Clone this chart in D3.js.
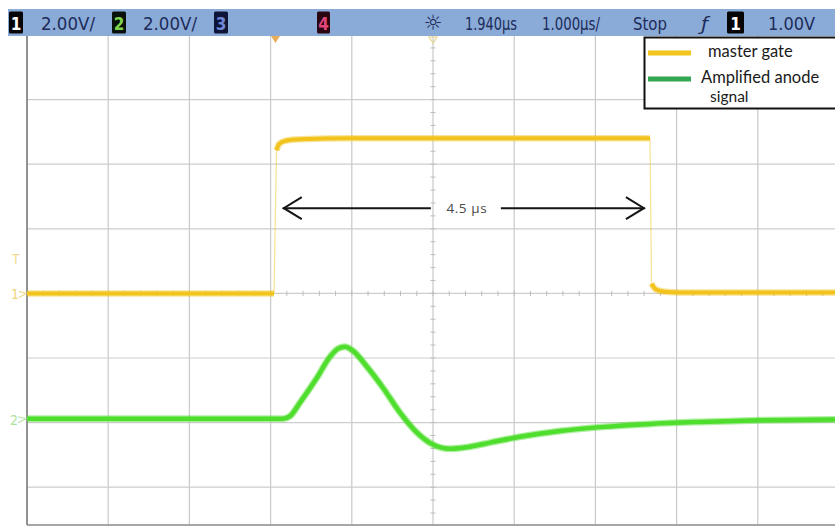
<!DOCTYPE html>
<html>
<head>
<meta charset="utf-8">
<script src="https://cdn.jsdelivr.net/npm/d3@7"></script>
<style>
  html, body { margin: 0; padding: 0; background: #ffffff; }
  svg { display: block; }
</style>
</head>
<body>
<svg id="chart" width="835" height="526"></svg>
<script>
// ---------------- DATA ----------------
// time in µs relative to the trigger point; voltages in V
const timePerDiv = 1.0;        // µs / div
const triggerDelay = 1.940;    // µs (screen centre relative to trigger)
const voltsPerDiv = [2.0, 2.0]; // ch1, ch2
const channelOffsetDiv = [0, -1.94];
const triggerLevel = 1.00;     // V on ch1

// master gate (ch1, yellow)
const gateTime  = [-3.06, -0.018, 0.013, 0.043, 0.117, 0.302, 0.918, 1.94, 3.381, 4.612, 4.631, 4.686, 4.797, 4.982, 6.94];
const gateVolts = [0.00, 0.00, 4.43, 4.62, 4.72, 4.77, 4.80, 4.80, 4.80, 4.80, 0.30, 0.12, 0.05, 0.03, 0.03];

// amplified anode signal (ch2, green)
const anodeTime  = [-3.06, 0.093, 0.179, 0.302, 0.511, 0.672, 0.770, 0.856, 0.955, 1.127, 1.324, 1.534, 1.743, 1.94, 2.149, 2.359, 2.642, 3.011, 3.504, 3.997, 4.612, 5.228, 5.967, 6.94];
const anodeVolts = [0.00, 0.00, 0.08, 0.50, 1.27, 1.92, 2.17, 2.23, 2.10, 1.61, 0.96, 0.19, -0.43, -0.80, -0.93, -0.88, -0.74, -0.56, -0.38, -0.26, -0.16, -0.10, -0.05, -0.02];

// annotation
const widthArrow = { start: 0.09, end: 4.55, levelDiv: 1.32, label: "4.5 µs" };

// status bar texts
const statusItems = [
  { type: "box", ch: "1", x: 9,   w: 14, fill: "#050505", color: "#ffffff" },
  { type: "text", text: "2.00V/", x: 41, w: 54 },
  { type: "box", ch: "2", x: 112, w: 14, fill: "#08120a", color: "#7fd44c" },
  { type: "text", text: "2.00V/", x: 143, w: 54 },
  { type: "box", ch: "3", x: 214, w: 14, fill: "#0e1338", color: "#7086d4" },
  { type: "box", ch: "4", x: 317, w: 13, fill: "#2a0612", color: "#e0457c" },
  { type: "text", text: "1.940µs", x: 465, w: 52 },
  { type: "text", text: "1.000µs/", x: 542, w: 58 },
  { type: "text", text: "Stop", x: 633, w: 34 },
  { type: "text", text: "ƒ", x: 701, w: 7 },
  { type: "box", ch: "1", x: 727, w: 17, fill: "#050505", color: "#ffffff" },
  { type: "text", text: "1.00V", x: 768, w: 47 }
];

const legendItems = [
  { label: ["master gate"], color: "#f1c51b" },
  { label: ["Amplified anode", "signal"], color: "#33a852" }
];

// ---------------- LAYOUT ----------------
const W = 835, H = 526;
const plotLeft = 27, divW = 81.2, plotTop = 35, divH = 64.6;
const nDivX = 10, nDivY = 8;
const visibleBottom = 525;

const svg = d3.select("#chart");

const x = d3.scaleLinear()
  .domain([triggerDelay - 5 * timePerDiv, triggerDelay + 5 * timePerDiv])
  .range([plotLeft, plotLeft + nDivX * divW]);
const y = d3.scaleLinear()
  .domain([-nDivY / 2, nDivY / 2])
  .range([plotTop + nDivY * divH, plotTop]);

const yCh = (ch, v) => y(channelOffsetDiv[ch] + v / voltsPerDiv[ch]);

svg.append("defs").append("clipPath").attr("id", "plotClip")
  .append("rect").attr("x", plotLeft).attr("y", plotTop + 1)
  .attr("width", W - plotLeft).attr("height", visibleBottom - plotTop - 1);

// ---------------- GRID ----------------
const grid = svg.append("g").attr("clip-path", "url(#plotClip)");
const xTicks = d3.range(0, nDivX + 1).map(k => x.domain()[0] + k * timePerDiv);
const yTicks = d3.range(-nDivY / 2, nDivY / 2 + 1);

grid.selectAll("line.vx").data(xTicks).join("line")
  .attr("x1", d => x(d)).attr("x2", d => x(d))
  .attr("y1", plotTop).attr("y2", visibleBottom)
  .attr("stroke", "#c9c9c9").attr("stroke-width", 1.2);
grid.selectAll("line.hy").data(yTicks).join("line")
  .attr("x1", plotLeft).attr("x2", W)
  .attr("y1", d => y(d)).attr("y2", d => y(d))
  .attr("stroke", "#cdcdcd").attr("stroke-width", 1.2);

// minor ticks on centre lines
const minorX = d3.range(0, nDivX * 5 + 1).map(k => x.domain()[0] + k * timePerDiv / 5);
grid.selectAll("line.mx").data(minorX).join("line")
  .attr("x1", d => x(d)).attr("x2", d => x(d))
  .attr("y1", y(0) - 2.5).attr("y2", y(0) + 2.5)
  .attr("stroke", "#bdbdbd").attr("stroke-width", 1);
const minorY = d3.range(-nDivY * 5 / 2, nDivY * 5 / 2 + 1).map(k => k / 5);
grid.selectAll("line.my").data(minorY).join("line")
  .attr("x1", x(triggerDelay) - 2.5).attr("x2", x(triggerDelay) + 2.5)
  .attr("y1", d => y(d)).attr("y2", d => y(d))
  .attr("stroke", "#bdbdbd").attr("stroke-width", 1);

// border
svg.append("line").attr("x1", plotLeft).attr("x2", plotLeft)
  .attr("y1", plotTop).attr("y2", visibleBottom)
  .attr("stroke", "#7a7a7a").attr("stroke-width", 1.6);
svg.append("line").attr("x1", plotLeft).attr("x2", W)
  .attr("y1", visibleBottom).attr("y2", visibleBottom)
  .attr("stroke", "#8a8a8a").attr("stroke-width", 1.6);

// ---------------- TRACES ----------------
const traces = svg.append("g").attr("clip-path", "url(#plotClip)");

function drawTrace(times, volts, ch, color, width) {
  const pts = times.map((t, i) => [x(t), yCh(ch, volts[i])]);
  // split into smooth runs and fast edges
  const runs = [];
  let cur = [pts[0]];
  for (let i = 1; i < pts.length; i++) {
    const dx = Math.abs(pts[i][0] - pts[i - 1][0]);
    const dy = Math.abs(pts[i][1] - pts[i - 1][1]);
    if (dy > 20 && dy > 8 * dx) {
      runs.push(cur);
      traces.append("line")
        .attr("x1", pts[i - 1][0]).attr("y1", pts[i - 1][1])
        .attr("x2", pts[i][0]).attr("y2", pts[i][1])
        .attr("stroke", color).attr("stroke-opacity", 0.45).attr("stroke-width", 1.3);
      cur = [pts[i]];
    } else {
      cur.push(pts[i]);
    }
  }
  runs.push(cur);
  const line = d3.line().curve(d3.curveMonotoneX);
  runs.forEach(r => {
    if (r.length < 2) return;
    traces.append("path").attr("d", line(r)).attr("fill", "none")
      .attr("stroke", color).attr("stroke-opacity", 0.45)
      .attr("stroke-width", width + 2.5).attr("stroke-linejoin", "round").attr("stroke-linecap", "butt");
    traces.append("path").attr("d", line(r)).attr("fill", "none")
      .attr("stroke", color).attr("stroke-width", width)
      .attr("stroke-linejoin", "round").attr("stroke-linecap", "butt");
  });
}
drawTrace(gateTime, gateVolts, 0, "#f2c31c", 4);
drawTrace(anodeTime, anodeVolts, 1, "#4fdd2e", 4.5);

// ---------------- ARROW ANNOTATION ----------------
const ay = y(widthArrow.levelDiv);
const ax1 = x(widthArrow.start), ax2 = x(widthArrow.end);
const midX = (ax1 + ax2) / 2 + 7;
const ann = svg.append("g").attr("stroke", "#151515").attr("stroke-width", 2).attr("fill", "none");
ann.append("line").attr("x1", ax1).attr("x2", midX - 40).attr("y1", ay).attr("y2", ay);
ann.append("line").attr("x1", midX + 30).attr("x2", ax2).attr("y1", ay).attr("y2", ay);
ann.append("path").attr("d", `M${ax1 + 19},${ay - 11} L${ax1 + 1},${ay} L${ax1 + 19},${ay + 11}`);
ann.append("path").attr("d", `M${ax2 - 19},${ay - 11} L${ax2 - 1},${ay} L${ax2 - 19},${ay + 11}`);
svg.append("text").attr("x", midX - 4).attr("y", ay + 5)
  .attr("text-anchor", "middle")
  .attr("font-family", "'Open Sans', sans-serif").attr("font-size", 13.5)
  .attr("fill", "#4a4a4a").attr("letter-spacing", 0.6)
  .text(widthArrow.label);

// ---------------- CHANNEL MARKERS (left) ----------------
const markers = svg.append("g").attr("font-family", "'Liberation Sans Narrow', 'DejaVu Sans Condensed', sans-serif")
  .attr("font-size", 14);
markers.append("text").attr("x", 12).attr("y", yCh(0, triggerLevel) + 3)
  .attr("fill", "#f0dd94").text("T");
markers.append("text").attr("x", 11).attr("y", yCh(0, 0) + 6)
  .attr("fill", "#efd67c").text("1");
markers.append("path").attr("d", `M19,${yCh(0,0)+4} L26,${yCh(0,0)} L19,${yCh(0,0)-2}`)
  .attr("fill", "none").attr("stroke", "#f0dc8c").attr("stroke-width", 1.2);
markers.append("text").attr("x", 10).attr("y", yCh(1, 0) + 6)
  .attr("fill", "#aee29c").text("2");
markers.append("path").attr("d", `M18,${yCh(1,0)+4} L26,${yCh(1,0)} L18,${yCh(1,0)-2}`)
  .attr("fill", "none").attr("stroke", "#b6e4a4").attr("stroke-width", 1.2);

// ---------------- STATUS BAR ----------------
const bar = svg.append("g");
bar.append("rect").attr("x", 8).attr("y", 9).attr("width", W - 8).attr("height", 27)
  .attr("fill", "#8aaad8");
statusItems.forEach(it => {
  if (it.type === "box") {
    bar.append("rect").attr("x", it.x).attr("y", 11.5).attr("width", it.w).attr("height", 22)
      .attr("rx", 1.5).attr("fill", it.fill);
    bar.append("text").attr("x", it.x + it.w / 2).attr("y", 29.5)
      .attr("text-anchor", "middle")
      .attr("font-family", "'Liberation Sans Narrow', 'DejaVu Sans Condensed', sans-serif")
      .attr("font-weight", "bold").attr("font-size", 17).attr("fill", it.color).text(it.ch);
  } else {
    bar.append("text").attr("x", it.x).attr("y", 29.5)
      .attr("font-family", "'Liberation Sans Narrow', 'DejaVu Sans Condensed', sans-serif")
      .attr("font-size", 18.5).attr("fill", "#1d2c58")
      .attr("textLength", it.w).attr("lengthAdjust", "spacingAndGlyphs")
      .attr("font-style", it.text === "ƒ" ? "italic" : "normal")
      .text(it.text);
  }
});
// sun (intensity) icon as text
bar.append("text").attr("x", x(triggerDelay)).attr("y", 30).attr("text-anchor", "middle")
  .attr("font-family", "'DejaVu Sans', sans-serif").attr("font-size", 21).attr("fill", "#1d2c58")
  .text("☼");

// trigger-time marker (orange) and centre reference marker
svg.append("path")
  .attr("d", `M${x(0) - 4.5},36 L${x(0) + 4.5},36 L${x(0)},43 Z`)
  .attr("fill", "#e3a03a").attr("opacity", 0.85);
svg.append("path")
  .attr("d", `M${x(triggerDelay) - 4},37 L${x(triggerDelay) + 4},37 L${x(triggerDelay)},43 Z`)
  .attr("fill", "none").attr("stroke", "#e6d48a").attr("stroke-width", 1.2);

// ---------------- LEGEND ----------------
const lg = svg.append("g");
lg.append("rect").attr("x", 644.5).attr("y", 37.5).attr("width", 200).attr("height", 71)
  .attr("fill", "#ffffff").attr("stroke", "#111111").attr("stroke-width", 2);
const legY = [53, 79];
legendItems.forEach((it, i) => {
  lg.append("line").attr("x1", 648).attr("x2", 691).attr("y1", legY[i]).attr("y2", legY[i])
    .attr("stroke", it.color).attr("stroke-width", 5);
  it.label.forEach((s, j) => {
    lg.append("text")
      .attr("x", j === 0 ? (i === 0 ? 708 : 701) : 710)
      .attr("y", legY[i] + 4 + j * 19)
      .attr("font-family", "Lato, 'Open Sans', sans-serif")
      .attr("font-size", j === 0 ? 16.5 : 15.5).attr("fill", "#1a1a1a")
      .text(s);
  });
});
</script>
</body>
</html>
